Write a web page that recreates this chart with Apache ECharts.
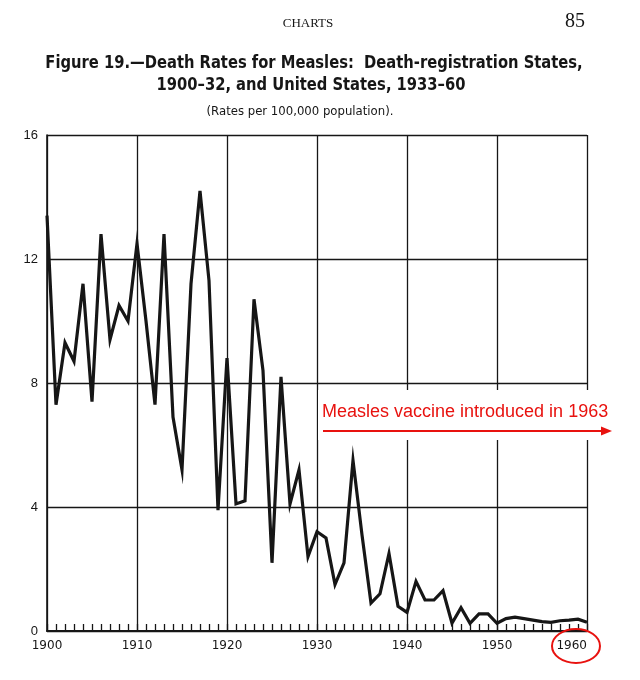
<!DOCTYPE html>
<html>
<head>
<meta charset="utf-8">
<script src="https://cdn.jsdelivr.net/npm/echarts@6/dist/echarts.min.js"></script>
<style>
    html, body { margin: 0; padding: 0; background: #fff; }
    #chart { width: 640px; height: 680px; }
</style>
</head>
<body>
<div id="chart"></div>
<script>
// measles death rates per 100,000
const YEARS = [
    1900, 1901, 1902, 1903, 1904, 1905, 1906, 1907, 1908, 1909,
    1910, 1911, 1912, 1913, 1914, 1915, 1916, 1917, 1918, 1919,
    1920, 1921, 1922, 1923, 1924, 1925, 1926, 1927, 1928, 1929,
    1930, 1931, 1932, 1933, 1934, 1935, 1936, 1937, 1938, 1939,
    1940, 1941, 1942, 1943, 1944, 1945, 1946, 1947, 1948, 1949,
    1950, 1951, 1952, 1953, 1954, 1955, 1956, 1957, 1958, 1959,
    1960,
];
const RATES = [
    13.4, 7.3, 9.3, 8.7, 11.2, 7.4, 12.8, 9.4, 10.5, 10.0,
    12.5, 10.0, 7.3, 12.8, 6.9, 5.2, 11.2, 14.2, 11.3, 3.9,
    8.8, 4.1, 4.2, 10.7, 8.4, 2.2, 8.2, 4.1, 5.2, 2.4,
    3.2, 3.0, 1.5, 2.2, 5.5, 3.1, 0.9, 1.2, 2.5, 0.8,
    0.6, 1.6, 1.0, 1.0, 1.3, 0.25, 0.75, 0.25, 0.55, 0.55,
    0.25, 0.4, 0.45, 0.4, 0.35, 0.3, 0.28, 0.33, 0.35, 0.38,
    0.28,
];
const Y_TICKS = [0, 4, 8, 12, 16];
const X_TICKS = [1900, 1910, 1920, 1930, 1940, 1950, 1960];

const TITLE_1 = "Figure 19.\u2014Death Rates for Measles:  Death-registration States,";
const TITLE_2 = "1900\u201332, and United States, 1933\u201360";
const SUBTITLE = "(Rates per 100,000 population).";
const NOTE = "Measles vaccine introduced in 1963";

const INK = "#161616";
const RED = "#e8120f";
const NARROW = "'DejaVu Sans Condensed', 'Liberation Sans Narrow', sans-serif";

const chart = echarts.init(document.getElementById("chart"));

const option = {
    backgroundColor: "#fff",
    animation: false,
    grid: { left: 47, right: 53, top: 135, bottom: 49 },
    xAxis: {
        type: "value",
        min: X_TICKS[0],
        max: X_TICKS[X_TICKS.length - 1],
        interval: 10,
        axisLine: { show: true, lineStyle: { color: INK, width: 2 } },
        axisTick: { show: true, inside: true, length: 7, lineStyle: { color: INK, width: 1.3 } },
        minorTick: { show: true, splitNumber: 10, length: 7, lineStyle: { color: INK, width: 1.3 } },
        minorSplitLine: { show: false },
        splitLine: { show: true, lineStyle: { color: INK, width: 1.3 } },
        axisLabel: {
            color: INK,
            fontFamily: "DejaVu Sans",
            fontSize: 12,
            margin: 9,
            alignMaxLabel: "right",
            formatter: (v) => String(v),
        },
    },
    yAxis: {
        type: "value",
        min: Y_TICKS[0],
        max: Y_TICKS[Y_TICKS.length - 1],
        interval: 4,
        axisLine: { show: true, lineStyle: { color: INK, width: 1.6 } },
        axisTick: { show: false },
        splitLine: { show: true, lineStyle: { color: INK, width: 1.3 } },
        axisLabel: {
            color: INK,
            fontFamily: "Liberation Sans",
            fontSize: 13,
            margin: 9,
        },
    },
    series: [
        {
            type: "line",
            data: YEARS.map((y, i) => [y, RATES[i]]),
            showSymbol: false,
            lineStyle: { color: INK, width: 3.2, join: "miter" },
            z: 5,
        },
    ],
    graphic: [
        { type: "text", x: 308, y: 24, style: { text: "CHARTS", font: "13px 'Liberation Serif', serif", fill: INK, align: "center", verticalAlign: "middle" } },
        { type: "text", x: 585, y: 22, style: { text: "85", font: "20px 'Liberation Serif', serif", fill: INK, align: "right", verticalAlign: "middle" } },
        // condensed bold face squeezed a little more to match the scan's narrow type
        { type: "text", x: 314, y: 63, scaleX: 0.91, style: { text: TITLE_1, font: "bold 18px " + NARROW, fill: INK, align: "center", verticalAlign: "middle" } },
        { type: "text", x: 311, y: 85, scaleX: 0.91, style: { text: TITLE_2, font: "bold 18px " + NARROW, fill: INK, align: "center", verticalAlign: "middle" } },
        { type: "text", x: 300, y: 112, style: { text: SUBTITLE, font: "13px " + NARROW, fill: INK, align: "center", verticalAlign: "middle" } },
        // annotation: white patch interrupts the grid behind the note
        { type: "rect", z: 50, shape: { x: 318, y: 390, width: 302, height: 50 }, style: { fill: "#fff" } },
        { type: "text", z: 51, x: 322, y: 412, style: { text: NOTE, font: "18px 'Liberation Sans', Arial, sans-serif", fill: RED, align: "left", verticalAlign: "middle" } },
        { type: "line", z: 51, shape: { x1: 323, y1: 431, x2: 604, y2: 431 }, style: { stroke: RED, lineWidth: 2.2 } },
        { type: "polygon", z: 51, shape: { points: [[612, 431], [601, 426.5], [601, 435.5]] }, style: { fill: RED } },
        { type: "ellipse", z: 51, shape: { cx: 576, cy: 646, rx: 24, ry: 17 }, style: { fill: "none", stroke: RED, lineWidth: 2 } },
    ],
};

chart.setOption(option);
window.addEventListener("resize", () => chart.resize());
</script>
</body>
</html>
